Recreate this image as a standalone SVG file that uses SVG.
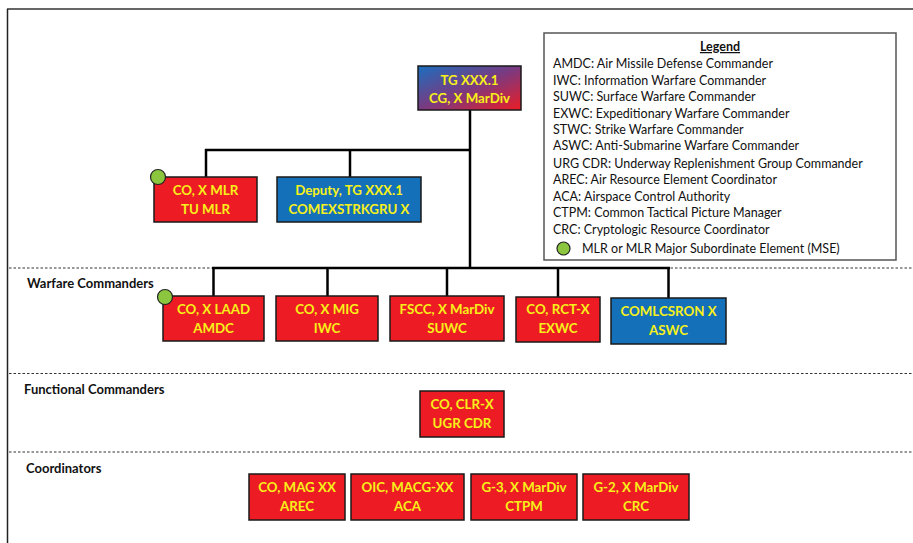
<svg xmlns="http://www.w3.org/2000/svg" width="913" height="543" viewBox="0 0 913 543">
<defs>
<linearGradient id="tgGrad" x1="0" y1="0" x2="1" y2="1">
<stop offset="0" stop-color="#1a6fc0"/>
<stop offset="0.5" stop-color="#7a3a80"/>
<stop offset="1" stop-color="#ec1c24"/>
</linearGradient>
<style>
.box{stroke:#1a1a1a;stroke-width:1.5}
.red{fill:#ed1c24}
.blue{fill:#1370b9}
.bt{font-family:Lato,"Liberation Sans",sans-serif;font-weight:bold;font-size:13.3px;fill:#f7f01a;text-anchor:middle}
.sec{font-family:Lato,"Liberation Sans",sans-serif;font-weight:bold;font-size:13px;fill:#111}
.lg{font-family:Lato,"Liberation Sans",sans-serif;font-size:12.5px;fill:#111}
.conn{stroke:#000;stroke-width:2.5;fill:none}
.dash{stroke:#333;stroke-width:1;stroke-dasharray:2.5 2}
.dot{fill:#8cc63f;stroke:#222;stroke-width:1.2}
</style>
</defs>
<rect width="913" height="543" fill="#fff"/>
<g id="frame">
<line x1="7" y1="9" x2="913" y2="9" stroke="#333" stroke-width="1.5"/>
<line x1="7.5" y1="9" x2="7.5" y2="543" stroke="#222" stroke-width="1.5"/>
<line class="dash" x1="9" y1="268" x2="913" y2="268"/>
<line class="dash" x1="9" y1="373.5" x2="913" y2="373.5"/>
<line class="dash" x1="9" y1="452" x2="913" y2="452"/>
</g>
<g id="section-labels">
<text class="sec" x="27" y="288">Warfare Commanders</text>
<text class="sec" x="24" y="394">Functional Commanders</text>
<text class="sec" x="26" y="473">Coordinators</text>
</g>
<g id="connectors">
<line class="conn" x1="470" y1="110" x2="470" y2="268"/>
<line class="conn" x1="205" y1="150" x2="471" y2="150"/>
<line class="conn" x1="206" y1="149" x2="206" y2="177"/>
<line class="conn" x1="350" y1="149" x2="350" y2="177"/>
<line class="conn" x1="212" y1="268" x2="670" y2="268"/>
<line class="conn" x1="213.5" y1="267" x2="213.5" y2="296"/>
<line class="conn" x1="327.5" y1="267" x2="327.5" y2="296"/>
<line class="conn" x1="447" y1="267" x2="447" y2="296"/>
<line class="conn" x1="558" y1="267" x2="558" y2="297"/>
<line class="conn" x1="668.5" y1="267" x2="668.5" y2="298"/>
</g>
<g id="tg">
<rect class="box" x="418" y="66" width="103" height="44" fill="url(#tgGrad)"/>
<text class="bt" x="469.5" y="84.5">TG XXX.1</text>
<text class="bt" x="469.5" y="103">CG, X MarDiv</text>
</g>
<g id="mlr">
<rect class="box red" x="154" y="177" width="103" height="45"/>
<text class="bt" x="205.5" y="195">CO, X MLR</text>
<text class="bt" x="205.5" y="213.5">TU MLR</text>
<circle class="dot" cx="158" cy="177" r="7.5"/>
</g>
<g id="deputy">
<rect class="box blue" x="277" y="177" width="144" height="45"/>
<text class="bt" x="349" y="195">Deputy, TG XXX.1</text>
<text class="bt" x="349" y="213.5">COMEXSTRKGRU X</text>
</g>
<g id="laad">
<rect class="box red" x="163" y="296" width="101" height="45"/>
<text class="bt" x="213.5" y="314">CO, X LAAD</text>
<text class="bt" x="213.5" y="332.5">AMDC</text>
<circle class="dot" cx="165" cy="297" r="7.5"/>
</g>
<g id="mig">
<rect class="box red" x="276" y="296" width="102" height="45"/>
<text class="bt" x="327" y="314">CO, X MIG</text>
<text class="bt" x="327" y="332.5">IWC</text>
</g>
<g id="fscc">
<rect class="box red" x="390" y="296" width="114" height="45"/>
<text class="bt" x="447" y="314">FSCC, X MarDiv</text>
<text class="bt" x="447" y="332.5">SUWC</text>
</g>
<g id="rct">
<rect class="box red" x="516" y="297" width="84" height="45"/>
<text class="bt" x="558" y="314">CO, RCT-X</text>
<text class="bt" x="558" y="333">EXWC</text>
</g>
<g id="comlcsron">
<rect class="box blue" x="611" y="298" width="115" height="46"/>
<text class="bt" x="668.5" y="316">COMLCSRON X</text>
<text class="bt" x="668.5" y="335">ASWC</text>
</g>
<g id="clr">
<rect class="box red" x="420" y="391" width="84" height="46"/>
<text class="bt" x="462" y="409">CO, CLR-X</text>
<text class="bt" x="462" y="428">UGR CDR</text>
</g>
<g id="mag">
<rect class="box red" x="249" y="474" width="96" height="46"/>
<text class="bt" x="297" y="492">CO, MAG XX</text>
<text class="bt" x="297" y="511">AREC</text>
</g>
<g id="oic">
<rect class="box red" x="351" y="474" width="113" height="46"/>
<text class="bt" x="407.5" y="492">OIC, MACG-XX</text>
<text class="bt" x="407.5" y="511">ACA</text>
</g>
<g id="g3">
<rect class="box red" x="471" y="474" width="106" height="46"/>
<text class="bt" x="524" y="492">G-3, X MarDiv</text>
<text class="bt" x="524" y="511">CTPM</text>
</g>
<g id="g2">
<rect class="box red" x="583" y="474" width="106" height="46"/>
<text class="bt" x="636" y="492">G-2, X MarDiv</text>
<text class="bt" x="636" y="511">CRC</text>
</g>
<g id="legend">
<rect x="544" y="33" width="352" height="227" fill="#fff" stroke="#555" stroke-width="1.5"/>
<text class="lg" x="720" y="51" text-anchor="middle" font-weight="bold" text-decoration="underline">Legend</text>
<text class="lg" x="553" y="67.5">AMDC: Air Missile Defense Commander</text>
<text class="lg" x="553" y="84.5">IWC: Information Warfare Commander</text>
<text class="lg" x="553" y="101">SUWC: Surface Warfare Commander</text>
<text class="lg" x="553" y="117.5">EXWC: Expeditionary Warfare Commander</text>
<text class="lg" x="553" y="133.5">STWC: Strike Warfare Commander</text>
<text class="lg" x="553" y="150">ASWC: Anti-Submarine Warfare Commander</text>
<text class="lg" x="553" y="168">URG CDR: Underway Replenishment Group Commander</text>
<text class="lg" x="553" y="184">AREC: Air Resource Element Coordinator</text>
<text class="lg" x="553" y="200.5">ACA: Airspace Control Authority</text>
<text class="lg" x="553" y="217">CTPM: Common Tactical Picture Manager</text>
<text class="lg" x="553" y="233.5">CRC: Cryptologic Resource Coordinator</text>
<circle class="dot" cx="563.5" cy="248.5" r="6.5"/>
<text class="lg" x="582" y="253">MLR or MLR Major Subordinate Element (MSE)</text>
</g>
</svg>
